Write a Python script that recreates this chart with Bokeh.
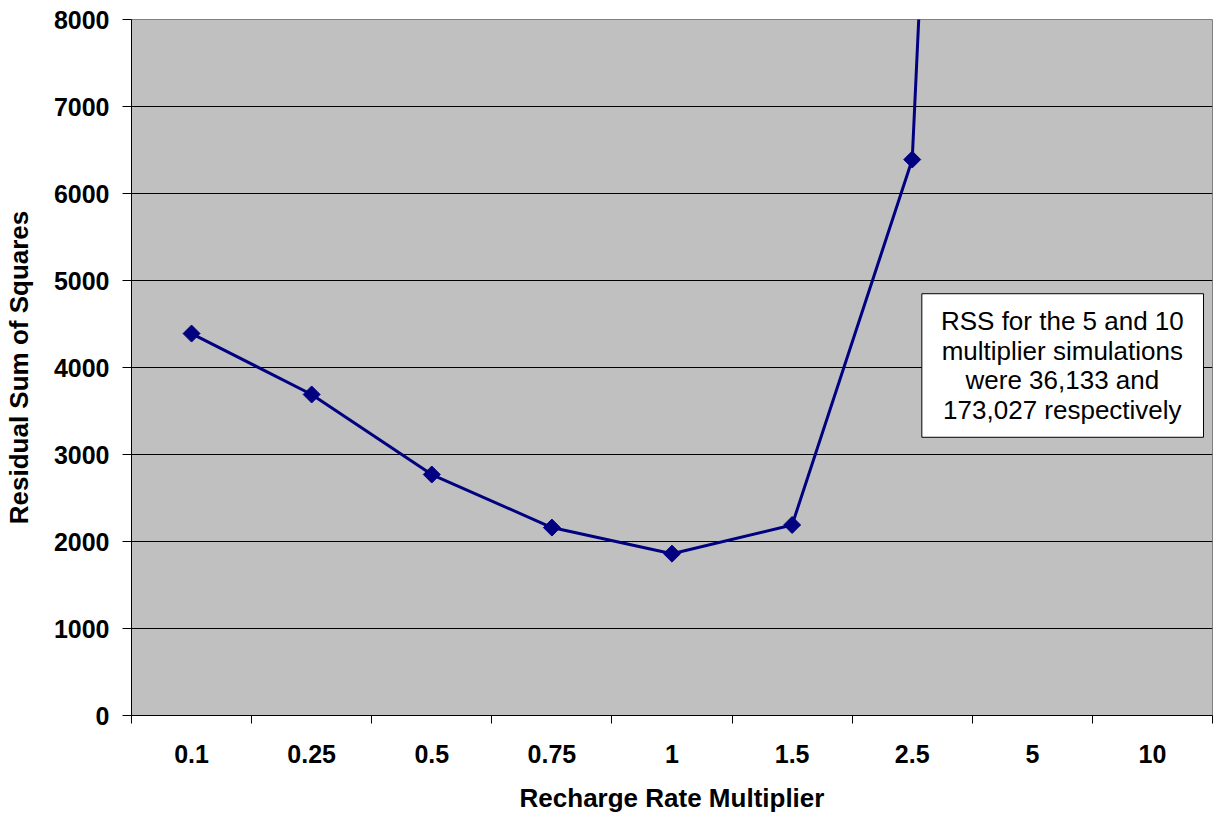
import numpy as np
from bokeh.plotting import figure
from bokeh.models import Range1d, FixedTicker, BoxAnnotation, Label, ColumnDataSource
from bokeh.embed import file_html
from bokeh.resources import INLINE

# ---- data ----
categories = ["0.1", "0.25", "0.5", "0.75", "1", "1.5", "2.5", "5", "10"]
rss = [4390, 3690, 2770, 2160, 1860, 2190, 6390, 36133, 173027]
y_ticks = [0, 1000, 2000, 3000, 4000, 5000, 6000, 7000, 8000]
note = "RSS for the 5 and 10\nmultiplier simulations\nwere 36,133 and\n173,027 respectively"

FONT = "Liberation Sans"
NAVY = "#000080"

n = len(categories)
centers = [i + 0.5 for i in range(n)]
bounds = list(range(n + 1))

src = ColumnDataSource(dict(x=centers, y=rss))

p = figure(width=1213, height=815, output_backend="svg", toolbar_location=None,
           x_range=Range1d(0, n), y_range=Range1d(0, 8000),
           min_border_left=130, min_border_top=19, min_border_right=1,
           min_border_bottom=98)

p.background_fill_color = "#C0C0C0"
p.border_fill_color = "white"
p.outline_line_color = "#808080"
p.outline_line_width = 1

# grid
p.xgrid.grid_line_color = None
p.ygrid.grid_line_color = "black"
p.ygrid.grid_line_width = 1
p.ygrid.ticker = FixedTicker(ticks=y_ticks)

# x axis
xa = p.xaxis[0]
xa.ticker = FixedTicker(ticks=centers, minor_ticks=bounds)
xa.major_label_overrides = {c: lab for c, lab in zip(centers, categories)}
xa.major_tick_out = 0
xa.major_tick_in = 0
xa.minor_tick_out = 8
xa.minor_tick_in = 0
xa.minor_tick_line_color = "black"
xa.axis_line_color = "black"
xa.major_label_standoff = 21
xa.major_label_text_font = FONT
xa.major_label_text_font_size = "25px"
xa.major_label_text_font_style = "bold"
xa.major_label_text_color = "black"
xa.axis_label = "Recharge Rate Multiplier"
xa.axis_label_text_font = FONT
xa.axis_label_text_font_size = "26px"
xa.axis_label_text_font_style = "bold"
xa.axis_label_text_color = "black"
xa.axis_label_standoff = 17

# y axis
ya = p.yaxis[0]
ya.ticker = FixedTicker(ticks=y_ticks)
ya.major_tick_out = 9
ya.major_tick_in = 0
ya.minor_tick_line_color = None
ya.axis_line_color = "black"
ya.major_tick_line_color = "black"
ya.major_label_standoff = 13
ya.major_label_text_font = FONT
ya.major_label_text_font_size = "25px"
ya.major_label_text_font_style = "bold"
ya.major_label_text_color = "black"
ya.axis_label = "Residual Sum of Squares"
ya.axis_label_text_font = FONT
ya.axis_label_text_font_size = "26px"
ya.axis_label_text_font_style = "bold"
ya.axis_label_text_color = "black"
ya.axis_label_standoff = 17

# series
p.line("x", "y", source=src, line_color=NAVY, line_width=3)
p.scatter("x", "y", source=src, marker="square", size=12, angle=np.pi / 4,
          fill_color=NAVY, line_color=NAVY)

# note box
box = BoxAnnotation(left=6.58, right=8.925, bottom=3198, top=4848,
                    fill_color="white", fill_alpha=1.0,
                    line_color="black", line_width=1, line_alpha=1.0)
p.add_layout(box)
lbl = Label(x=7.75, y=4023, text=note, text_align="center", text_baseline="middle",
            text_font=FONT, text_font_size="26px", text_color="black",
            text_line_height=0.985)
p.add_layout(lbl)

open("out.html", "w").write(file_html(p, INLINE))
